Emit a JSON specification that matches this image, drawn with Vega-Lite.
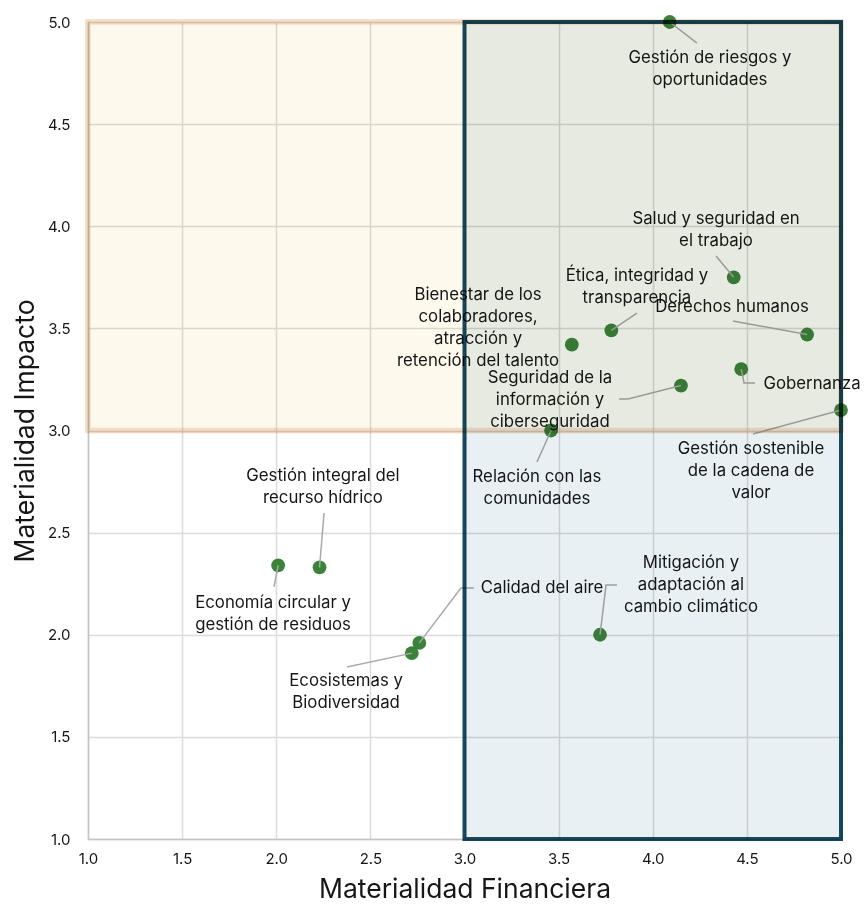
{
  "$schema": "https://vega.github.io/schema/vega-lite/v6.json",
  "width": 753,
  "height": 817,
  "autosize": {"type": "none"},
  "padding": {"left": 88, "top": 22, "right": 25, "bottom": 71},
  "background": "#ffffff",
  "config": {
    "view": {"stroke": null},
    "font": "Inter",
    "axis": {
      "grid": true,
      "gridColor": "#DCDCDC",
      "gridWidth": 1.5,
      "domainColor": "#C4C4C4",
      "domainWidth": 1.5,
      "ticks": false,
      "labelFlush": false,
      "labelFont": "Inter",
      "labelFontSize": 15,
      "labelColor": "#161616",
      "titleFont": "Inter",
      "titleFontSize": 26.5,
      "titleFontWeight": "normal",
      "titleColor": "#161616"
    },
    "axisX": {"labelPadding": 12, "titlePadding": 10},
    "axisY": {"labelPadding": 18, "titlePadding": 8}
  },
  "datasets": {
    "points": [
      {"name": "Gestión de riesgos y oportunidades", "x": 4.09, "y": 5.0},
      {"name": "Salud y seguridad en el trabajo", "x": 4.43, "y": 3.75},
      {"name": "Ética, integridad y transparencia", "x": 3.78, "y": 3.49},
      {"name": "Derechos humanos", "x": 4.82, "y": 3.47},
      {"name": "Bienestar de los colaboradores, atracción y retención del talento", "x": 3.57, "y": 3.42},
      {"name": "Gobernanza", "x": 4.47, "y": 3.30},
      {"name": "Seguridad de la información y ciberseguridad", "x": 4.15, "y": 3.22},
      {"name": "Gestión sostenible de la cadena de valor", "x": 5.0, "y": 3.10},
      {"name": "Relación con las comunidades", "x": 3.46, "y": 3.0},
      {"name": "Gestión integral del recurso hídrico", "x": 2.23, "y": 2.33},
      {"name": "Economía circular y gestión de residuos", "x": 2.01, "y": 2.34},
      {"name": "Calidad del aire", "x": 2.76, "y": 1.96},
      {"name": "Ecosistemas y Biodiversidad", "x": 2.72, "y": 1.91},
      {"name": "Mitigación y adaptación al cambio climático", "x": 3.72, "y": 2.0}
    ],
    "labels": [
      {"text": "Gestión de riesgos y\noportunidades", "x": 4.304, "y": 4.863},
      {"text": "Salud y seguridad en\nel trabajo", "x": 4.336, "y": 4.075},
      {"text": "Ética, integridad y\ntransparencia", "x": 3.916, "y": 3.796},
      {"text": "Derechos humanos", "x": 4.421, "y": 3.644},
      {"text": "Bienestar de los\ncolaboradores,\natracción y\nretención del talento", "x": 3.072, "y": 3.703},
      {"text": "Gobernanza", "x": 4.846, "y": 3.267},
      {"text": "Seguridad de la\ninformación y\nciberseguridad", "x": 3.454, "y": 3.296},
      {"text": "Gestión sostenible\nde la cadena de\nvalor", "x": 4.522, "y": 2.949},
      {"text": "Relación con las\ncomunidades", "x": 3.385, "y": 2.812},
      {"text": "Gestión integral del\nrecurso hídrico", "x": 2.248, "y": 2.816},
      {"text": "Economía circular y\ngestión de residuos", "x": 1.983, "y": 2.195},
      {"text": "Calidad del aire", "x": 3.412, "y": 2.268},
      {"text": "Ecosistemas y\nBiodiversidad", "x": 2.371, "y": 1.813},
      {"text": "Mitigación y\nadaptación al\ncambio climático", "x": 4.203, "y": 2.39}
    ],
    "leaders": [
      {"name": "riesgos", "seq": 0, "x": 4.09, "y": 5.0},
      {"name": "riesgos", "seq": 1, "x": 4.235, "y": 4.897},
      {"name": "salud", "seq": 0, "x": 4.43, "y": 3.75},
      {"name": "salud", "seq": 1, "x": 4.336, "y": 3.854},
      {"name": "etica", "seq": 0, "x": 3.78, "y": 3.49},
      {"name": "etica", "seq": 1, "x": 3.916, "y": 3.575},
      {"name": "derechos", "seq": 0, "x": 4.82, "y": 3.47},
      {"name": "derechos", "seq": 1, "x": 4.426, "y": 3.536},
      {"name": "gobernanza", "seq": 0, "x": 4.47, "y": 3.30},
      {"name": "gobernanza", "seq": 1, "x": 4.485, "y": 3.233},
      {"name": "gobernanza", "seq": 2, "x": 4.543, "y": 3.233},
      {"name": "seguridad", "seq": 0, "x": 4.15, "y": 3.22},
      {"name": "seguridad", "seq": 1, "x": 3.869, "y": 3.154},
      {"name": "seguridad", "seq": 2, "x": 3.821, "y": 3.154},
      {"name": "cadena", "seq": 0, "x": 5.0, "y": 3.10},
      {"name": "cadena", "seq": 1, "x": 4.533, "y": 2.983},
      {"name": "comunidades", "seq": 0, "x": 3.46, "y": 3.0},
      {"name": "comunidades", "seq": 1, "x": 3.385, "y": 2.846},
      {"name": "hidrico", "seq": 0, "x": 2.23, "y": 2.33},
      {"name": "hidrico", "seq": 1, "x": 2.254, "y": 2.596},
      {"name": "economia", "seq": 0, "x": 2.01, "y": 2.34},
      {"name": "economia", "seq": 1, "x": 1.988, "y": 2.234},
      {"name": "aire", "seq": 0, "x": 2.76, "y": 1.96},
      {"name": "aire", "seq": 1, "x": 2.981, "y": 2.229},
      {"name": "aire", "seq": 2, "x": 3.05, "y": 2.229},
      {"name": "ecosistemas", "seq": 0, "x": 2.72, "y": 1.91},
      {"name": "ecosistemas", "seq": 1, "x": 2.376, "y": 1.842},
      {"name": "mitigacion", "seq": 0, "x": 3.72, "y": 2.0},
      {"name": "mitigacion", "seq": 1, "x": 3.752, "y": 2.244},
      {"name": "mitigacion", "seq": 2, "x": 3.81, "y": 2.244}
    ]
  },
  "layer": [
    {
      "data": {"name": "points"},
      "mark": {"type": "point", "filled": true, "size": 190, "opacity": 1, "color": "#3C823B"},
      "encoding": {
        "x": {"field": "x", "type": "quantitative", "scale": {"domain": [1, 5], "nice": false, "zero": false}, "title": "Materialidad Financiera", "axis": {"values": [1, 1.5, 2, 2.5, 3, 3.5, 4, 4.5, 5], "format": ".1f"}},
        "y": {"field": "y", "type": "quantitative", "scale": {"domain": [1, 5], "nice": false, "zero": false}, "title": "Materialidad Impacto", "axis": {"values": [1, 1.5, 2, 2.5, 3, 3.5, 4, 4.5, 5], "format": ".1f"}}
      }
    },
    {
      "data": {"name": "leaders"},
      "mark": {"type": "line", "color": "#A9A9A9", "strokeWidth": 1.5},
      "encoding": {
        "x": {"field": "x", "type": "quantitative", "scale": {"domain": [1, 5], "nice": false, "zero": false}, "title": "Materialidad Financiera", "axis": {"values": [1, 1.5, 2, 2.5, 3, 3.5, 4, 4.5, 5], "format": ".1f"}},
        "y": {"field": "y", "type": "quantitative", "scale": {"domain": [1, 5], "nice": false, "zero": false}, "title": "Materialidad Impacto", "axis": {"values": [1, 1.5, 2, 2.5, 3, 3.5, 4, 4.5, 5], "format": ".1f"}},
        "detail": {"field": "name"},
        "order": {"field": "seq", "type": "quantitative"}
      }
    },
    {
      "data": {"name": "labels"},
      "mark": {"type": "text", "align": "center", "baseline": "top", "lineBreak": "\n", "lineHeight": 22, "fontSize": 16.8, "font": "Inter", "color": "#161616"},
      "encoding": {
        "x": {"field": "x", "type": "quantitative", "scale": {"domain": [1, 5], "nice": false, "zero": false}, "title": "Materialidad Financiera", "axis": {"values": [1, 1.5, 2, 2.5, 3, 3.5, 4, 4.5, 5], "format": ".1f"}},
        "y": {"field": "y", "type": "quantitative", "scale": {"domain": [1, 5], "nice": false, "zero": false}, "title": "Materialidad Impacto", "axis": {"values": [1, 1.5, 2, 2.5, 3, 3.5, 4, 4.5, 5], "format": ".1f"}},
        "text": {"field": "text"}
      }
    },
    {
      "data": {"values": [{"x": 1, "x2": 5, "y": 3, "y2": 5}]},
      "mark": {"type": "rect", "fill": "#FDF9EC", "stroke": "#F6DCC4", "strokeWidth": 5.5, "blend": "multiply", "clip": false},
      "encoding": {
        "x": {"field": "x", "type": "quantitative", "scale": {"domain": [1, 5], "nice": false, "zero": false}, "title": "Materialidad Financiera", "axis": {"values": [1, 1.5, 2, 2.5, 3, 3.5, 4, 4.5, 5], "format": ".1f"}},
        "x2": {"field": "x2"},
        "y": {"field": "y", "type": "quantitative", "scale": {"domain": [1, 5], "nice": false, "zero": false}, "title": "Materialidad Impacto", "axis": {"values": [1, 1.5, 2, 2.5, 3, 3.5, 4, 4.5, 5], "format": ".1f"}},
        "y2": {"field": "y2"}
      }
    },
    {
      "data": {"values": [{"x": 3, "x2": 5, "y": 1, "y2": 5}]},
      "mark": {"type": "rect", "fill": "#E9F0F3", "stroke": "#174A63", "strokeWidth": 4, "blend": "multiply", "clip": false},
      "encoding": {
        "x": {"field": "x", "type": "quantitative", "scale": {"domain": [1, 5], "nice": false, "zero": false}, "title": "Materialidad Financiera", "axis": {"values": [1, 1.5, 2, 2.5, 3, 3.5, 4, 4.5, 5], "format": ".1f"}},
        "x2": {"field": "x2"},
        "y": {"field": "y", "type": "quantitative", "scale": {"domain": [1, 5], "nice": false, "zero": false}, "title": "Materialidad Impacto", "axis": {"values": [1, 1.5, 2, 2.5, 3, 3.5, 4, 4.5, 5], "format": ".1f"}},
        "y2": {"field": "y2"}
      }
    }
  ]
}
